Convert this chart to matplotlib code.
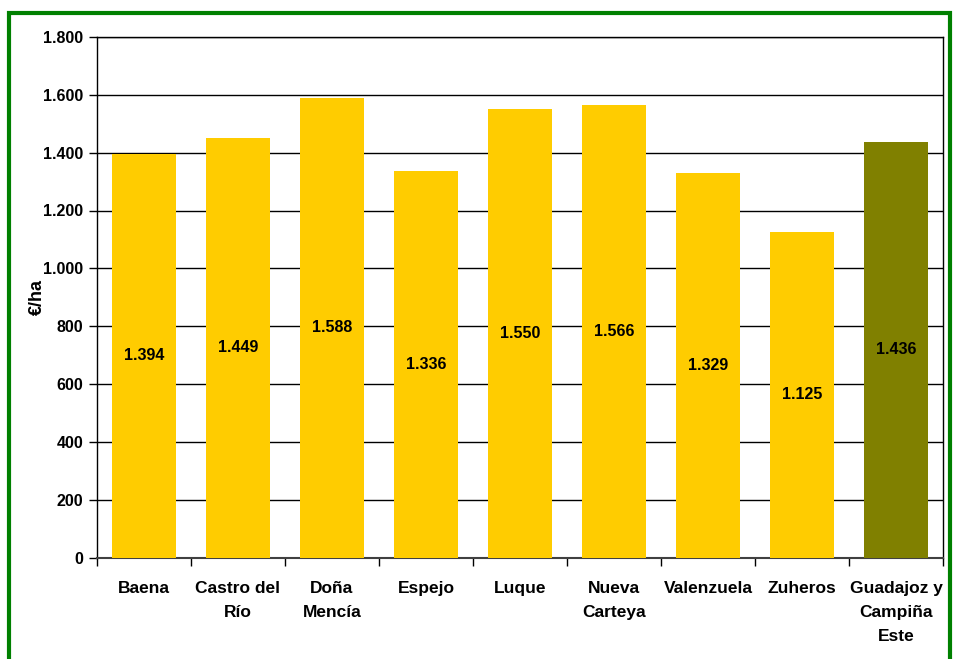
import numpy as np
import matplotlib.pyplot as plt
from matplotlib.patches import Rectangle
from matplotlib.ticker import FuncFormatter

plt.rcParams['font.family'] = ['Liberation Sans', 'DejaVu Sans']
plt.rcParams['font.weight'] = 'bold'

categories = ["Baena", "Castro del\nRío", "Doña\nMencía", "Espejo", "Luque",
              "Nueva\nCarteya", "Valenzuela", "Zuheros", "Guadajoz y\nCampiña\nEste"]
values = [1394, 1449, 1588, 1336, 1550, 1566, 1329, 1125, 1436]
colors = ["#FFCC00"] * 8 + ["#808000"]


def thousands(v, pos=None):
    return f"{int(v):,}".replace(",", ".")


fig = plt.figure(figsize=(9.54, 6.59), dpi=100)
ax = fig.add_axes([97 / 954, 1 - 557.5 / 659, 846 / 954, 520.5 / 659])

x = np.arange(len(categories))
ax.bar(x, values, width=0.68, color=colors, zorder=3)

for xi, v in zip(x, values):
    ax.text(xi, v / 2, thousands(v), ha="center", va="center",
            fontsize=11.5, fontweight="bold", zorder=4)

ax.set_xlim(-0.5, len(categories) - 0.5)
ax.set_ylim(0, 1800)
ax.set_yticks(np.arange(0, 1801, 200))
ax.yaxis.set_major_formatter(FuncFormatter(thousands))
ax.yaxis.grid(True, color="black", linewidth=1, zorder=0)

ax.set_xticks(x)
ax.set_xticklabels(categories, fontsize=12.5, fontweight="bold")
for lab in ax.get_xticklabels():
    lab.set_linespacing(1.75)
ax.set_xticks(np.arange(-0.5, len(categories)), minor=True)
ax.tick_params(axis="x", which="major", length=0, pad=17)
ax.tick_params(axis="x", which="minor", length=6, width=1)
ax.tick_params(axis="y", length=6, width=1, labelsize=11.5, pad=4)
for lab in ax.get_yticklabels():
    lab.set_fontweight("bold")

for s in ax.spines.values():
    s.set_color("black")
    s.set_linewidth(1)
ax.spines["bottom"].set_color("#404040")
ax.spines["bottom"].set_linewidth(1.5)

ax.set_ylabel("€/ha", fontsize=13, fontweight="bold", labelpad=-2)

fig.patches.append(Rectangle((9.5 / 954, -0.05), 941 / 954, 1 - 12.5 / 659 + 0.05,
                             transform=fig.transFigure, fill=False,
                             edgecolor="#008000", linewidth=3))

fig.savefig("out.png", dpi=100)
